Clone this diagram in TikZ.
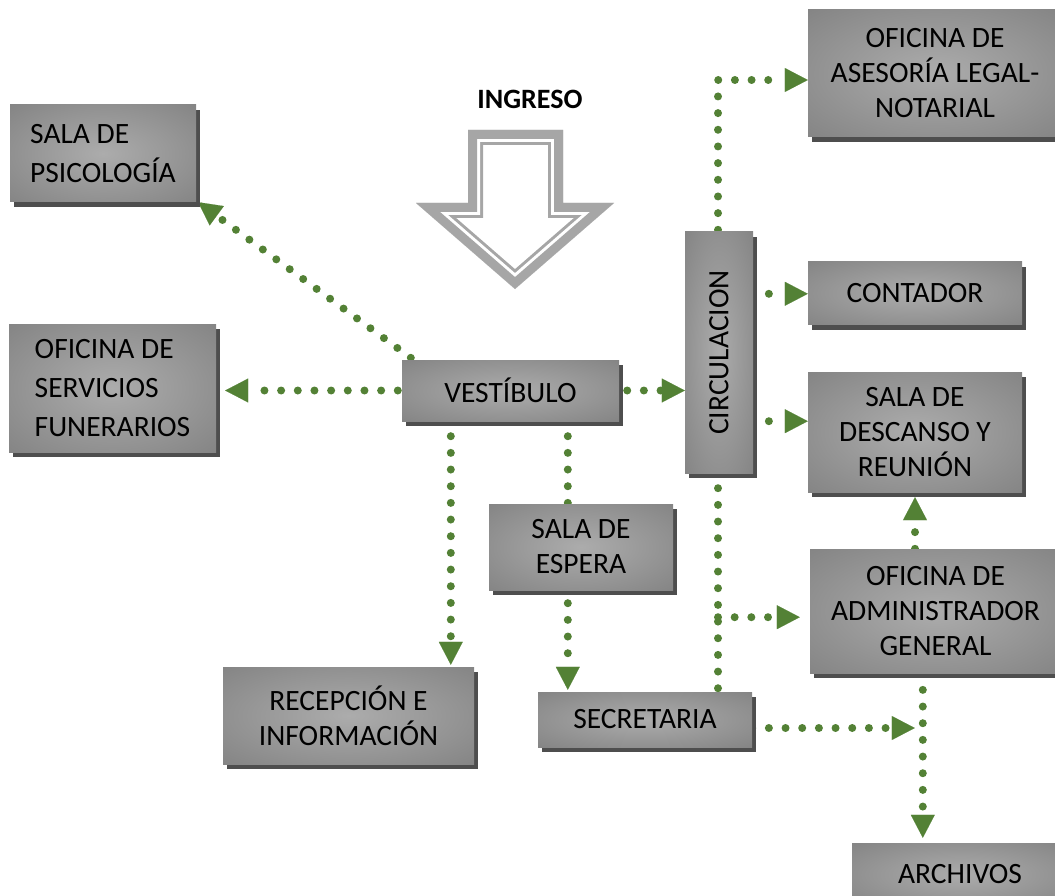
\documentclass[tikz,border=0pt]{standalone}
\usepackage{fontspec}
\setmainfont{Carlito}
\usetikzlibrary{arrows.meta,shadows,calc}
\pgfdeclarelayer{bg}
\pgfsetlayers{bg,main}
\definecolor{conngreen}{RGB}{83,129,53}
\definecolor{boxin}{RGB}{172,172,172}
\definecolor{boxout}{RGB}{122,122,122}
\definecolor{shadowgray}{RGB}{78,78,78}
\definecolor{ingresogray}{RGB}{166,166,166}
\pgfdeclareradialshading{boxshade}{\pgfpoint{0bp}{0bp}}{color(0bp)=(boxin); color(45bp)=(boxout); color(50bp)=(boxout)}
\tikzset{
  room/.style={shading=boxshade, inner sep=0pt, align=center, text=black,
    font=\fontsize{29.5}{35}\selectfont,
    drop shadow={shadow xshift=4pt, shadow yshift=-5pt, fill=shadowgray, opacity=1}},
  leftroom/.style={room, align=left, font=\fontsize{29.5}{39}\selectfont},
  conn/.style={draw=conngreen, line width=8pt, line cap=round, dash pattern=on 0pt off 16.67pt},
  arrowend/.style={-{Triangle[length=23pt,width=24pt,line width=0.1pt]}},
}
\begin{document}
\begin{tikzpicture}[x=1pt,y=-1pt]
\useasboundingbox (0,0) rectangle (1055,896);

% entrance arrow
\node[font=\bfseries\fontsize{28}{32}\selectfont, anchor=base] (ingreso) at (530,109) {INGRESO};
\begin{scope}
  \path[clip] (468,130) -- (563,130) -- (563,203) -- (614,203) -- (515,289) -- (416,203) -- (468,203) -- cycle;
  \draw[ingresogray, line width=30pt, line join=miter] (468,130) -- (563,130) -- (563,203) -- (614,203) -- (515,289) -- (416,203) -- (468,203) -- cycle;
  \draw[white, line width=24pt, line join=miter] (468,130) -- (563,130) -- (563,203) -- (614,203) -- (515,289) -- (416,203) -- (468,203) -- cycle;
  \draw[ingresogray, line width=18pt, line join=miter] (468,130) -- (563,130) -- (563,203) -- (614,203) -- (515,289) -- (416,203) -- (468,203) -- cycle;
\end{scope}

% rooms
\node[leftroom, minimum width=186pt, minimum height=97pt] (psico) at (103,153.5) {SALA DE\\PSICOLOGÍA};
\node[leftroom, minimum width=207pt, minimum height=128pt] (serv) at (112.5,388) {OFICINA DE\\SERVICIOS\\FUNERARIOS};
\node[room, minimum width=217pt, minimum height=61pt] (vest) at (510.5,390.5) {VESTÍBULO};
\node[room, minimum width=68pt, minimum height=241pt] (circ) at (719,352.5) {\rotatebox{90}{CIRCULACION}};
\node[room, minimum width=254pt, minimum height=127pt] (ases) at (935,73.5) {OFICINA DE\\ASESORÍA LEGAL-\\NOTARIAL};
\node[room, minimum width=214pt, minimum height=63pt] (cont) at (915,293) {CONTADOR};
\node[room, minimum width=214pt, minimum height=120pt] (desc) at (915,432) {SALA DE\\DESCANSO Y\\REUNIÓN};
\node[room, minimum width=251pt, minimum height=124pt] (admin) at (935.5,611) {OFICINA DE\\ADMINISTRADOR\\GENERAL};
\node[room, minimum width=184pt, minimum height=86pt] (espera) at (581,547) {SALA DE\\ESPERA};
\node[room, minimum width=251pt, minimum height=97pt] (recep) at (348.5,715.5) {RECEPCIÓN E\\INFORMACIÓN};
\node[room, minimum width=214pt, minimum height=55pt] (secre) at (645,719.5) {SECRETARIA};
\node[room, minimum width=216pt, minimum height=63pt] (arch) at (960,874.5) {ARCHIVOS};

% connectors
\begin{pgfonlayer}{bg}
\coordinate (v1) at ($(vest.south west)+(49,15)$);
\coordinate (v2) at ($(vest.south west)+(166,15)$);
\coordinate (c1) at (718,80);
\coordinate (c2) at ($(circ.north east)+(-1,62)$);
\coordinate (c3) at ($(circ.south east)+(-1,-52)$);
\coordinate (c4) at ($(circ.south)+(-1,15)$);
\coordinate (j1) at ($(c4)+(0,129)$);
\coordinate (a1) at (admin.north -| desc.south);
\coordinate (a2) at ($(admin.south west)+(113,0)$);
\coordinate (s1) at ($(secre.east)+(0,8.5)$);

\draw[conn,arrowend] ($(vest.north west)+(9,-2)$) -- ($(psico.south east)+(2,0)$);
\draw[conn,arrowend] ($(vest.west)+(-4,0)$) -- ($(vest.west -| serv.east)+(9,0)$);
\draw[conn,arrowend] ($(vest.east)+(8,0)$) -- (vest.east -| circ.west);
\draw[conn,arrowend] (v1) -- ($(v1 |- recep.north)+(0,-2)$);
\draw[conn] (v2) -- (v2 |- espera.north);
\draw[conn,arrowend] ($(v2 |- espera.south)+(0,13)$) -- ($(v2 |- secre.north)+(0,-2)$);
\draw[conn,arrowend] ($(circ.north)+(-1,-2)$) -- (c1) -- (c1 -| ases.west);
\draw[conn,arrowend] (c2) -- (c2 -| cont.west);
\draw[conn,arrowend] (c3) -- (c3 -| desc.west);
\draw[conn] (c4) -- (c4 |- secre.north);
\draw[conn,arrowend] (j1) -- ($(j1 -| admin.west)+(-10,0)$);
\draw[conn,arrowend] (a1) -- ($(desc.south)+(0,5)$);
\draw[conn,arrowend] (a2) -- ($(a2 |- arch.north)+(0,-5)$);
\draw[conn,arrowend] (s1) -- ($(s1 -| a2)+(-8,0)$);
\end{pgfonlayer}
\end{tikzpicture}
\end{document}
